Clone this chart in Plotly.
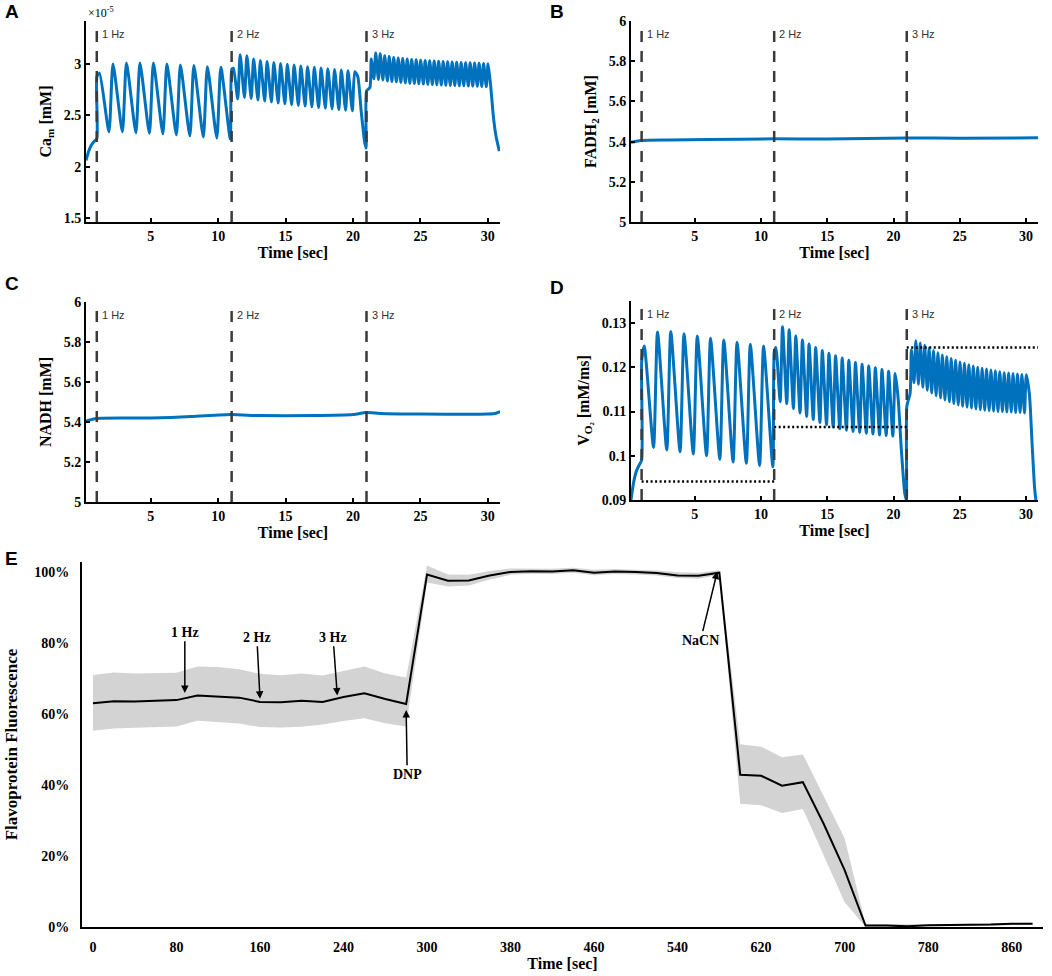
import plotly.graph_objects as go

# ---------------- data ----------------
STIM_START = [1, 11, 21]
STIM_FREQ = [1, 2, 3]
STIM_LABELS = ["1 Hz", "2 Hz", "3 Hz"]

# Panel A: Ca_m (x1e-5 mM)
A_PRE_T = [0.2, 0.4, 0.6, 0.8, 1.0]
A_PRE_V = [2.06, 2.15, 2.21, 2.245, 2.27]
A1_ONSET = 2.88
A1_PEAKS = [2.91, 3.00, 3.01, 3.01, 3.01, 3.00, 2.99, 2.985, 2.975, 2.97]
A1_TROUGHS = [2.34, 2.34, 2.33, 2.325, 2.32, 2.31, 2.30, 2.29, 2.28, 2.27]
A2_ONSET = 2.95
A2_PEAKS = [2.96, 3.09, 3.08, 3.05, 3.035, 3.025, 3.015, 3.005, 2.998, 2.99,
            2.982, 2.975, 2.968, 2.961, 2.955, 2.948, 2.941, 2.934, 2.925]
A2_TROUGHS = [2.66, 2.675, 2.665, 2.65, 2.64, 2.63, 2.62, 2.612, 2.604, 2.597,
              2.59, 2.583, 2.576, 2.57, 2.563, 2.557, 2.55, 2.545]
A2_TAIL_T = [20.35, 20.6, 20.85, 20.97]
A2_TAIL_V = [2.88, 2.55, 2.25, 2.18]
A3_ONSET = [2.74, 2.77]
A3_PEAKS = [3.05, 3.107, 3.10, 3.08, 3.073, 3.065, 3.06, 3.055, 3.05, 3.045,
            3.042, 3.038, 3.035, 3.032, 3.03, 3.027, 3.025, 3.022, 3.02, 3.018,
            3.016, 3.014, 3.012, 3.01, 3.008, 3.005, 3.003]
A3_TROUGHS = [2.857, 2.85, 2.845, 2.835, 2.83, 2.825, 2.82, 2.815, 2.812, 2.81,
              2.807, 2.805, 2.802, 2.8, 2.798, 2.796, 2.794, 2.792, 2.79, 2.789,
              2.788, 2.786, 2.785, 2.784, 2.782, 2.78]
A3_TAIL_T = [30.2, 30.4, 30.6, 30.85]
A3_TAIL_V = [2.8, 2.5, 2.3, 2.15]

# Panel B: FADH2
B_T = [0.2, 0.6, 1.0, 3, 6, 11, 15, 21, 25, 30.9]
B_V = [5.396, 5.402, 5.406, 5.408, 5.410, 5.414, 5.413, 5.418, 5.417, 5.419]

# Panel C: NADH
C_T = [0.2, 1.0, 5, 8, 11, 13, 17, 20, 21, 22, 25, 30, 30.6, 30.9]
C_V = [5.405, 5.418, 5.420, 5.427, 5.437, 5.432, 5.432, 5.437, 5.447, 5.443,
       5.440, 5.440, 5.444, 5.452]

# Panel D: VO2
D_PRE_T = [0.2, 0.4, 0.6, 0.8, 1.0]
D_PRE_V = [0.0900, 0.0940, 0.0965, 0.0978, 0.0990]
D1_ONSET = 0.1215
D1_PEAKS = [0.1248, 0.1280, 0.1281, 0.1276, 0.1271, 0.1266, 0.1262, 0.1257, 0.1252, 0.1248]
D1_TROUGHS = [0.1019, 0.1013, 0.1009, 0.1004, 0.1000, 0.0992, 0.0986, 0.0983, 0.0978, 0.0975]
D2_ONSET = 0.1235
D2_PEAKS = [0.1245, 0.1292, 0.1285, 0.1271, 0.1262, 0.1253, 0.1245, 0.1238, 0.1232, 0.1226,
            0.1221, 0.1216, 0.1211, 0.1207, 0.1203, 0.1199, 0.1195, 0.1191, 0.1186]
D2_TROUGHS = [0.1122, 0.1118, 0.1107, 0.1097, 0.1089, 0.1082, 0.1075, 0.1070, 0.1065, 0.1061,
              0.1058, 0.1055, 0.1053, 0.1051, 0.1049, 0.1047, 0.1046, 0.1045]
D2_TAIL_T = [20.35, 20.6, 20.85, 20.97]
D2_TAIL_V = [0.1130, 0.1010, 0.0915, 0.0900]
D3_ONSET = [0.1113, 0.1140]
D3_PEAKS = [0.1240, 0.1260, 0.1255, 0.1250, 0.1244, 0.1238, 0.1233, 0.1228, 0.1224, 0.1220,
            0.1216, 0.1212, 0.1209, 0.1206, 0.1203, 0.1200, 0.1198, 0.1196, 0.1194, 0.1192,
            0.1190, 0.1188, 0.1187, 0.1186, 0.1185, 0.1184, 0.1183]
D3_TROUGHS = [0.1165, 0.1162, 0.1155, 0.1148, 0.1142, 0.1136, 0.1131, 0.1126, 0.1122, 0.1118,
              0.1115, 0.1112, 0.1110, 0.1108, 0.1106, 0.1104, 0.1103, 0.1102, 0.1101, 0.1100,
              0.1100, 0.1099, 0.1099, 0.1098, 0.1098, 0.1097]
D3_TAIL_T = [30.25, 30.45, 30.65, 30.9]
D3_TAIL_V = [0.1140, 0.1030, 0.0925, 0.0860]
D_LEVELS = [0.0942, 0.1065, 0.1245]
D_LEVEL_END = 30.9

# Panel E: flavoprotein fluorescence (%)
E_T = list(range(0, 901, 20))
E_MEAN = [63.0, 63.6, 63.5, 63.6, 63.9, 65.2, 64.9, 64.6, 63.4, 63.3,
          63.7, 63.4, 64.8, 65.8, 64.2, 62.8, 99.3, 97.5, 97.6, 99.0,
          100.0, 100.2, 100.1, 100.5, 99.8, 100.1, 100.0, 99.7, 99.0, 98.9,
          99.8, 42.9, 42.6, 39.8, 40.8, 29.0, 16.0, 0.4, 0.4, 0.2,
          0.5, 0.5, 0.6, 0.7, 0.9, 0.9]
E_UPPER = [71.0, 71.7, 71.4, 71.5, 71.6, 73.4, 73.2, 72.6, 71.3, 70.9,
           71.4, 70.8, 72.0, 73.4, 71.4, 70.3, 101.8, 99.3, 99.2, 100.3,
           101.0, 101.0, 100.9, 101.2, 100.6, 100.8, 100.7, 100.4, 99.9, 99.8,
           100.5, 51.5, 50.8, 47.8, 48.6, 37.0, 25.0, 0.8, 0.8, 0.6,
           0.8, 0.8, 0.9, 1.0, 1.2, 1.2]
E_LOWER = [55.3, 55.9, 56.1, 56.2, 56.5, 58.1, 57.8, 57.3, 56.3, 56.2,
           56.4, 57.0, 58.0, 58.8, 57.4, 56.5, 97.0, 95.9, 96.2, 97.9,
           99.2, 99.5, 99.4, 99.8, 99.1, 99.4, 99.3, 99.0, 98.3, 98.1,
           99.2, 34.7, 34.3, 32.1, 33.2, 20.0, 7.0, 0.1, 0.1, 0.0,
           0.2, 0.2, 0.3, 0.4, 0.6, 0.6]
E_TICKVALS = [0, 80, 160, 240, 320, 400, 480, 560, 640, 720, 800, 880]
E_TICKTEXT = ["0", "80", "160", "240", "300", "380", "460", "540", "620", "700", "780", "860"]
E_YTICKVALS = [0, 20, 40, 60, 80, 100]
E_YTICKTEXT = ["0%", "20%", "40%", "60%", "80%", "100%"]
E_EVENTS = ["1 Hz", "2 Hz", "3 Hz", "DNP", "NaCN"]
E_EVENT_X = [88, 160, 234, 300, 598]
E_EVENT_TIP = [65.9, 64.3, 65.2, 61.1, 100.1]
E_EVENT_TEXT_X = [88, 157, 230, 301, 582]
E_EVENT_TEXT_Y = [83.0, 81.6, 81.6, 43.0, 80.8]

# ---------------- helpers ----------------
PEAK_DELAY = [0.2, 0.13, 0.35]
TROUGH_DELAY = [0.9, 0.45, 0.55]


def build_wave(pre_t, pre_v, on1, p1, t1, on2, p2, t2, tail2_t, tail2_v,
               on3, p3, t3, tail3_t, tail3_v):
    pts = list(zip(pre_t, pre_v))
    s, f = STIM_START[0], STIM_FREQ[0]
    seg = [(s + 0.01, on1)]
    seg += [(s + PEAK_DELAY[0] + k / f, v) for k, v in enumerate(p1)]
    seg += [(s + TROUGH_DELAY[0] + k / f, v) for k, v in enumerate(t1)]
    pts += sorted(seg)
    s, f = STIM_START[1], STIM_FREQ[1]
    seg = [(s + 0.01, on2)]
    seg += [(s + PEAK_DELAY[1] + k / f, v) for k, v in enumerate(p2)]
    seg += [(s + TROUGH_DELAY[1] + k / f, v) for k, v in enumerate(t2)]
    seg += list(zip(tail2_t, tail2_v))
    pts += sorted(seg)
    s, f = STIM_START[2], STIM_FREQ[2]
    seg = [(s + 0.01, on3[0]), (s + 0.25, on3[1])]
    seg += [(s + PEAK_DELAY[2] + k / f, v) for k, v in enumerate(p3)]
    seg += [(s + TROUGH_DELAY[2] + k / f, v) for k, v in enumerate(t3)]
    seg += list(zip(tail3_t, tail3_v))
    pts += sorted(seg)
    return [p[0] for p in pts], [p[1] for p in pts]


BLUE = "#0072BD"
SERIF = "Liberation Serif"
SANS = "Liberation Sans"
W, H = 1052, 976


def fx(px):
    return px / W


def fy(py):
    return 1 - py / H


fig = go.Figure()

ax, ay = build_wave(A_PRE_T, A_PRE_V, A1_ONSET, A1_PEAKS, A1_TROUGHS,
                    A2_ONSET, A2_PEAKS, A2_TROUGHS, A2_TAIL_T, A2_TAIL_V,
                    A3_ONSET, A3_PEAKS, A3_TROUGHS, A3_TAIL_T, A3_TAIL_V)
dx, dy = build_wave(D_PRE_T, D_PRE_V, D1_ONSET, D1_PEAKS, D1_TROUGHS,
                    D2_ONSET, D2_PEAKS, D2_TROUGHS, D2_TAIL_T, D2_TAIL_V,
                    D3_ONSET, D3_PEAKS, D3_TROUGHS, D3_TAIL_T, D3_TAIL_V)

line_style = dict(color=BLUE, width=3, shape="spline", smoothing=0.6)
fig.add_trace(go.Scatter(x=ax, y=ay, mode="lines", line=line_style, xaxis="x", yaxis="y", showlegend=False))
fig.add_trace(go.Scatter(x=B_T, y=B_V, mode="lines", line=line_style, xaxis="x2", yaxis="y2", showlegend=False))
fig.add_trace(go.Scatter(x=C_T, y=C_V, mode="lines", line=line_style, xaxis="x3", yaxis="y3", showlegend=False))
fig.add_trace(go.Scatter(x=dx, y=dy, mode="lines", line=line_style, xaxis="x4", yaxis="y4", showlegend=False))

ends = STIM_START[1:] + [D_LEVEL_END]
for s, e, lv in zip(STIM_START, ends, D_LEVELS):
    fig.add_trace(go.Scatter(x=[s, e], y=[lv, lv], mode="lines",
                             line=dict(color="black", width=2.5, dash="2px,2.5px"),
                             xaxis="x4", yaxis="y4", showlegend=False))

fig.add_trace(go.Scatter(x=E_T, y=E_UPPER, mode="lines", line=dict(width=0, color="rgba(0,0,0,0)"),
                         xaxis="x5", yaxis="y5", showlegend=False, hoverinfo="skip"))
fig.add_trace(go.Scatter(x=E_T, y=E_LOWER, mode="lines", line=dict(width=0, color="rgba(0,0,0,0)"),
                         fill="tonexty", fillcolor="rgb(211,211,211)",
                         xaxis="x5", yaxis="y5", showlegend=False, hoverinfo="skip"))
fig.add_trace(go.Scatter(x=E_T, y=E_MEAN, mode="lines", line=dict(color="black", width=2),
                         xaxis="x5", yaxis="y5", showlegend=False))

# ---------------- axes ----------------
tickfont = dict(family=SERIF, size=14, color="black", weight="bold")
titlefont = dict(family=SERIF, size=16, color="black", weight="bold")


def small_axes(xdom, ydom):
    xa = dict(domain=xdom, range=[0.2, 30.9], showline=True, linecolor="black", linewidth=2,
              ticks="inside", ticklen=4, tickwidth=2, tickcolor="black",
              tickvals=[5, 10, 15, 20, 25, 30], tickfont=tickfont,
              showgrid=False, zeroline=False, automargin=False,
              title=dict(text="Time [sec]", font=titlefont, standoff=4))
    ya = dict(domain=ydom, showline=True, linecolor="black", linewidth=2,
              ticks="inside", ticklen=4, tickwidth=2, tickcolor="black",
              tickfont=tickfont, showgrid=False, zeroline=False, automargin=False)
    return xa, ya


xA, yA = small_axes([fx(86), fx(500)], [fy(222), fy(21)])
xB, yB = small_axes([fx(631), fx(1038)], [fy(222), fy(21)])
xC, yC = small_axes([fx(86), fx(500)], [fy(502), fy(302)])
xD, yD = small_axes([fx(631), fx(1038)], [fy(500), fy(301)])

yA.update(range=[1.46, 3.42], tickvals=[1.5, 2, 2.5, 3], ticktext=["1.5", "2", "2.5", "3"],
          title=dict(text="Ca<sub>m</sub> [mM]", font=titlefont, standoff=8))
yB.update(range=[5, 6], tickvals=[5, 5.2, 5.4, 5.6, 5.8, 6], ticktext=["5", "5.2", "5.4", "5.6", "5.8", "6"],
          title=dict(text="FADH<sub>2</sub> [mM]", font=titlefont, standoff=8))
yC.update(range=[5, 6], tickvals=[5, 5.2, 5.4, 5.6, 5.8, 6], ticktext=["5", "5.2", "5.4", "5.6", "5.8", "6"],
          title=dict(text="NADH [mM]", font=titlefont, standoff=8))
yD.update(range=[0.09, 0.135], tickvals=[0.09, 0.1, 0.11, 0.12, 0.13],
          ticktext=["0.09", "0.1", "0.11", "0.12", "0.13"],
          title=dict(text="V<sub>O₂</sub> [mM/ms]", font=titlefont, standoff=8))

xE = dict(domain=[fx(82), fx(1043)], range=[-10.5, 910], showline=True, linecolor="black", linewidth=2,
          ticks="", tickvals=E_TICKVALS, ticktext=E_TICKTEXT, tickfont=tickfont,
          showgrid=False, zeroline=False, ticklabelstandoff=6, automargin=False,
          title=dict(text="Time [sec]", font=titlefont, standoff=4))
yE = dict(domain=[fy(927), fy(562)], range=[0, 102.8], showline=True, linecolor="black", linewidth=2,
          ticks="", tickvals=E_YTICKVALS, ticktext=E_YTICKTEXT, tickfont=tickfont,
          showgrid=False, zeroline=False, ticklabelstandoff=8, automargin=False,
          title=dict(text="Flavoprotein Fluorescence",
                     font=dict(family=SERIF, size=17, color="black", weight="bold"),
                     standoff=12))

fig.update_layout(
    width=W, height=H, margin=dict(l=0, r=0, t=0, b=0, autoexpand=False),
    paper_bgcolor="white", plot_bgcolor="white", showlegend=False,
    xaxis=dict(xA, anchor="y"), yaxis=dict(yA, anchor="x"),
    xaxis2=dict(xB, anchor="y2"), yaxis2=dict(yB, anchor="x2"),
    xaxis3=dict(xC, anchor="y3"), yaxis3=dict(yC, anchor="x3"),
    xaxis4=dict(xD, anchor="y4"), yaxis4=dict(yD, anchor="x4"),
    xaxis5=dict(xE, anchor="y5"), yaxis5=dict(yE, anchor="x5"),
)

shapes = []
annotations = []
for xr, yr in [("x", "y"), ("x2", "y2"), ("x3", "y3"), ("x4", "y4")]:
    for s, lab in zip(STIM_START, STIM_LABELS):
        shapes.append(dict(type="line", xref=xr, yref=yr + " domain", x0=s, x1=s, y0=0, y1=0.97,
                           line=dict(color="#3a3a3a", width=2.5, dash="11px,9px")))
        annotations.append(dict(text=lab, xref=xr, yref=yr + " domain", x=s + 0.25, y=0.935,
                                xanchor="left", yanchor="middle", showarrow=False,
                                font=dict(family=SANS, size=11, color="#333333")))

for lab, px, py in [("A", 3, 12), ("B", 548, 12), ("C", 3, 283), ("D", 548, 287), ("E", 3, 558)]:
    annotations.append(dict(text=lab, xref="paper", yref="paper", x=fx(px), y=fy(py),
                            xanchor="left", yanchor="middle", showarrow=False,
                            font=dict(family=SANS, size=19, color="black", weight="bold")))

annotations.append(dict(text="×10<sup>-5</sup>", xref="paper", yref="paper", x=fx(86), y=fy(13),
                        xanchor="left", yanchor="middle", showarrow=False,
                        font=dict(family=SERIF, size=12, color="black")))

for lab, x, tip, tx, ty in zip(E_EVENTS, E_EVENT_X, E_EVENT_TIP, E_EVENT_TEXT_X, E_EVENT_TEXT_Y):
    annotations.append(dict(text=lab, xref="x5", yref="y5", x=x, y=tip,
                            axref="x5", ayref="y5", ax=tx, ay=ty,
                            showarrow=True, arrowhead=2, arrowsize=1, arrowwidth=1.5,
                            arrowcolor="black", standoff=0,
                            font=dict(family=SERIF, size=14, color="black", weight="bold")))

fig.update_layout(shapes=shapes, annotations=annotations)
fig.write_html("out.html", config={"displayModeBar": False},
               post_script="document.body.style.margin='0';document.body.style.overflow='hidden';")
